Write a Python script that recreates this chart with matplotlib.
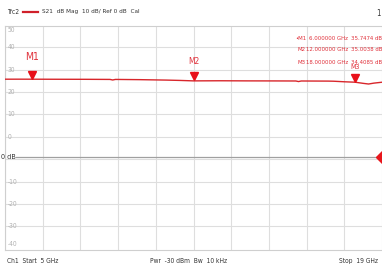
import matplotlib
matplotlib.use("Agg")
import matplotlib.pyplot as plt
from matplotlib.transforms import offset_copy
import numpy as np

plt.rcParams['font.family'] = ['DejaVu Sans']
plt.rcParams['font.stretch'] = 'condensed'

# ---- data ----
freq_ghz = [5.0, 5.5, 6.0, 7.0, 8.0, 8.9, 9.0, 9.1, 10.0, 11.0, 11.5, 12.0, 13.0, 14.0,
            15.0, 15.8, 15.9, 16.0, 17.0, 17.2, 17.6, 18.0, 18.3, 18.5, 18.7, 19.0]
s21_db = [35.75, 35.76, 35.75, 35.72, 35.70, 35.65, 35.4, 35.65, 35.55, 35.35, 35.2, 35.00,
          35.05, 35.0, 34.98, 34.95, 34.7, 34.95, 34.9, 34.85, 34.6, 34.41, 33.9, 33.6, 34.0, 34.4]

marker_names = ["M1", "M2", "M3"]
marker_freq = [6.0, 12.0, 18.0]
marker_val = [35.7474, 35.0038, 34.4085]

grid_vals = [50, 40, 30, 20, 10, 0, -10, -20, -30]
grid_labels = ["40", "30", "20", "10", "0", "0 dB", "-10", "-20", "-30"]
top_label, bottom_label = "50", "-40"

x_start, x_stop, x_div = 5.0, 19.0, 1.4
y_lo, y_hi = -40.5, 59.5

red = "#d8262b"
mred = "#e0303a"
txt = "#333333"

W, H = 382, 270
fig = plt.figure(figsize=(W / 100, H / 100), dpi=100)
fig.patch.set_facecolor("white")
left, right, top, bottom = 5, 382, 26, 250
ax = fig.add_axes([left / W, (H - bottom) / H, (right - left) / W, (bottom - top) / H])
ax.set_xlim(x_start, x_stop)
ax.set_ylim(y_lo, y_hi)
ax.set_xticks(np.arange(x_start, x_stop + 0.01, x_div))
ax.set_yticks(grid_vals)
ax.grid(True, color="#dedede", linewidth=0.8)
ax.tick_params(left=False, bottom=False, labelleft=False, labelbottom=False)
for s in ax.spines.values():
    s.set_color("#cfcfcf")
    s.set_linewidth(0.8)
ax.spines['right'].set_visible(False)

# y labels inside the plot, left
lab_kw = dict(color="#b0b0b0", fontsize=4.8, va="center", ha="left",
              transform=ax.get_yaxis_transform())
for v, t in zip(grid_vals, grid_labels):
    if t == "0 dB":
        continue
    ax.text(0.006, v, t, **lab_kw)
ax.text(0.006, y_hi - 2.0, top_label, **lab_kw)
ax.text(0.006, y_lo + 2.5, bottom_label, **lab_kw)

# reference line 0 dB
ax.axhline(0.8, color="#a0a0a0", linewidth=0.9, xmin=0.03)
ax.text(-0.010, 0.8, "0 dB", color=txt, fontsize=5.2, va="center", ha="left",
        transform=ax.get_yaxis_transform(), clip_on=False)
ax.plot([x_stop], [0.8], marker="D", color="#e8161c", markersize=6, clip_on=False, zorder=5)

# trace
ax.plot(freq_ghz, s21_db, color=red, linewidth=1.0, zorder=4)

# markers
tri_tr = offset_copy(ax.transData, fig=fig, x=0, y=3.2, units='points')
for i, (n, f, v) in enumerate(zip(marker_names, marker_freq, marker_val)):
    ax.plot([f], [v], marker="v", color="#e8101a", markersize=5.5, transform=tri_tr,
            zorder=6, clip_on=False)
    size = [7.5, 6.0, 5.0][i]
    dy = [12.5, 10.5, 8.5][i]
    lab_tr = offset_copy(ax.transData, fig=fig, x=0, y=dy, units='points')
    ax.text(f, v, n, color=mred, fontsize=size, ha="center", va="bottom",
            transform=lab_tr, zorder=6)

# marker table
rows_y = [38, 50, 62]
fs_tab = 4.3
for i, (n, f, v) in enumerate(zip(marker_names, marker_freq, marker_val)):
    y = 1 - rows_y[i] / H
    pre = "\u2022" if i == 0 else ""
    fig.text(306 / W, y, pre + n, color=mred, fontsize=fs_tab, ha="right", va="center")
    fig.text(348 / W, y, f"{f:.6f} GHz", color=mred, fontsize=fs_tab, ha="right", va="center")
    fig.text(351 / W, y, f"{v:.4f} dB", color=mred, fontsize=fs_tab, ha="left", va="center")

# header
fig.text(7 / W, 1 - 12 / H, "Trc2", color=txt, fontsize=4.8, va="center")
fig.add_artist(plt.Line2D([23 / W, 38 / W], [1 - 12 / H, 1 - 12 / H], color="#d0202a",
                          linewidth=1.6))
fig.text(42 / W, 1 - 12 / H, "S21  dB Mag  10 dB/ Ref 0 dB  Cal", color=txt,
         fontsize=4.6, va="center")
fig.text(376 / W, 1 - 13 / H, "1", color=txt, fontsize=5.5, va="center")

# footer
fig.text(7 / W, 1 - 261 / H, "Ch1  Start  5 GHz", color=txt, fontsize=4.8, va="center")
fig.text(150 / W, 1 - 261 / H, "Pwr  -30 dBm  Bw  10 kHz", color=txt, fontsize=4.8,
         va="center")
fig.text(378 / W, 1 - 261 / H, "Stop  19 GHz", color=txt, fontsize=4.8, va="center",
         ha="right")

fig.savefig("out.png", dpi=100)
